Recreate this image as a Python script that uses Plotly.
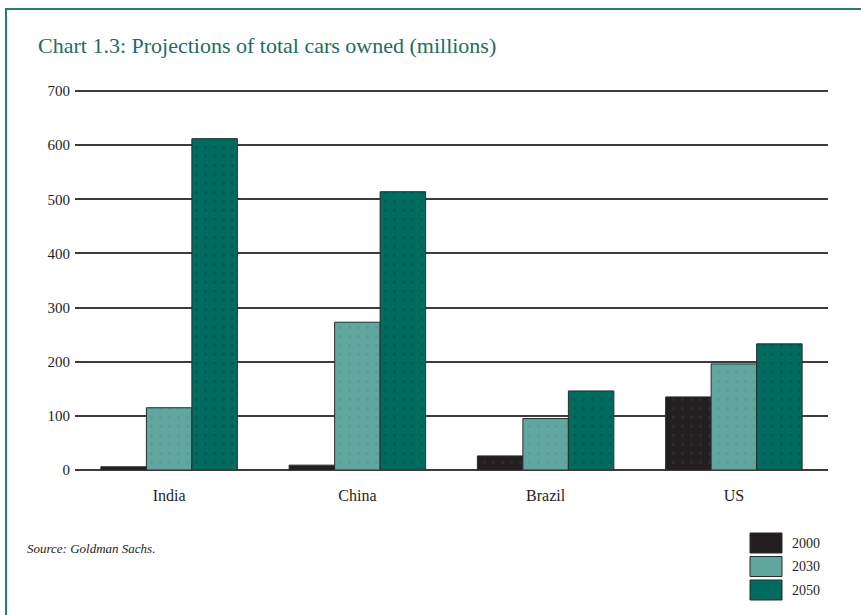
import plotly.graph_objects as go

# Projected car ownership, millions
countries = ["India", "China", "Brazil", "US"]
years = ["2000", "2030", "2050"]
cars_2000 = [6, 9, 26, 135]
cars_2030 = [115, 273, 95, 196]
cars_2050 = [612, 514, 146, 233]
series = [cars_2000, cars_2030, cars_2050]
y_ticks = [0, 100, 200, 300, 400, 500, 600, 700]

colors = ["#231f20", "#62a79f", "#006b5f"]
dots = ["#3a3a3a", "#4f9088", "#0d3f52"]

W, H = 861, 615
L, R, T, B = 75, 33, 89, 145
pw, ph = W - L - R, H - T - B
Y_MAX = 700 * (ph / (ph - 2))


def px_to_paper(x, y):
    return (x - L) / pw, (H - B - y) / ph


fig = go.Figure()
for name, vals, col, dc in zip(years, series, colors, dots):
    fig.add_trace(go.Bar(
        x=countries, y=vals, name=name,
        marker=dict(color=col, line=dict(color="#2b2b2b", width=1),
                    pattern=dict(shape=".", fgcolor=dc, size=9, solidity=0.08)),
        showlegend=False,
    ))

serif = "Liberation Serif"

fig.update_layout(
    width=W, height=H,
    margin=dict(l=L, r=R, t=T, b=B),
    paper_bgcolor="white", plot_bgcolor="white",
    barmode="group", bargap=0.275, bargroupgap=0,
    font=dict(family=serif, color="#1e1e1e"),
    title=dict(text="Chart 1.3: Projections of total cars owned (millions)",
               xref="container", yref="container", x=38 / W, y=1 - 45 / H,
               xanchor="left", yanchor="middle",
               font=dict(family=serif, size=22, color="#236b61")),
    xaxis=dict(showgrid=False, showline=False, ticks="", tickfont=dict(size=16),
               ticklabelstandoff=14, range=[-0.5, 3.5]),
    yaxis=dict(range=[0, Y_MAX], tickvals=y_ticks, showgrid=True,
               gridcolor="#3c3c3c", gridwidth=1.6, zeroline=True,
               zerolinecolor="#3c3c3c", zerolinewidth=1.6,
               showline=False, ticks="", ticklabelstandoff=4,
               tickfont=dict(size=15)),
)

# Frame around the chart
fig.add_shape(type="rect", xref="paper", yref="paper",
              x0=px_to_paper(6, 0)[0], x1=px_to_paper(W + 10, 0)[0],
              y0=px_to_paper(0, H + 10)[1], y1=px_to_paper(0, 9)[1],
              line=dict(color="#2a7a6e", width=2), fillcolor="rgba(0,0,0,0)",
              layer="below")

sx, sy = px_to_paper(25, 548)
fig.add_annotation(text="<i>Source: Goldman Sachs.</i>", x=sx, y=sy,
                   xref="paper", yref="paper", xanchor="left", yanchor="middle",
                   showarrow=False, font=dict(family=serif, size=13, color="#1e1e1e"))

# Legend boxes, bottom right
for i, (name, col) in enumerate(zip(years, colors)):
    top = 533 + i * 23.5
    x0, y0 = px_to_paper(750, top + 20)
    x1, y1 = px_to_paper(782, top)
    fig.add_shape(type="rect", xref="paper", yref="paper", x0=x0, x1=x1, y0=y0, y1=y1,
                  fillcolor=col, line=dict(color="#2b2b2b", width=1))
    lx, ly = px_to_paper(790, top + 10)
    fig.add_annotation(text=name, x=lx, y=ly, xref="paper", yref="paper",
                       xanchor="left", yanchor="middle", showarrow=False,
                       font=dict(family=serif, size=14, color="#1e1e1e"))

fig.write_html("out.html")
